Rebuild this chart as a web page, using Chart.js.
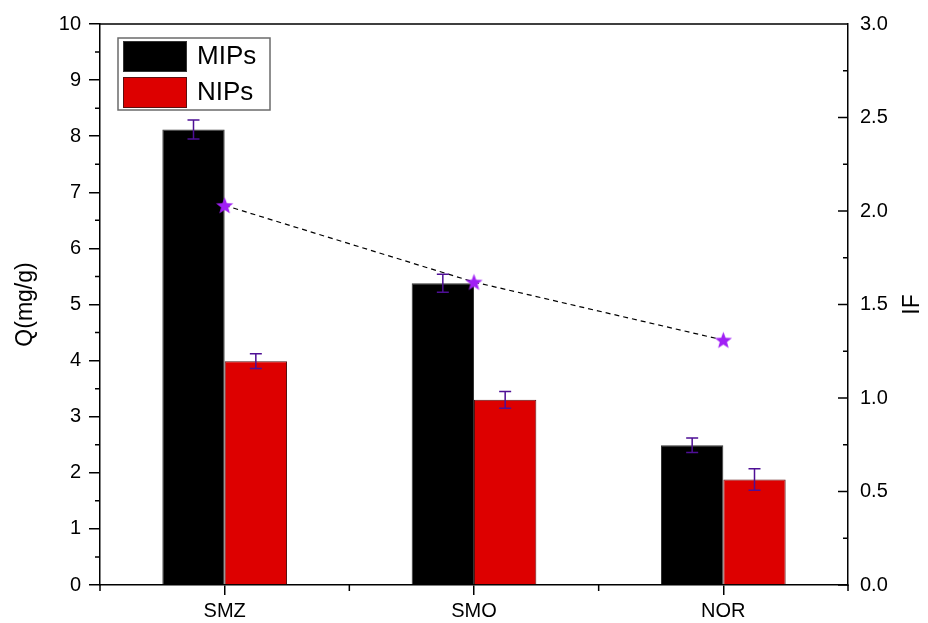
<!DOCTYPE html>
<html>
<head>
<meta charset="utf-8">
<script src="https://cdn.jsdelivr.net/npm/chart.js@4"></script>
<style>
  html, body { margin: 0; padding: 0; background: #fff; }
  #wrap { width: 928px; height: 623px; }
</style>
</head>
<body>
<div id="wrap"><canvas id="myChart" width="928" height="623"></canvas></div>
<script>
const categories = ['SMZ', 'SMO', 'NOR'];
const mips = [8.12, 5.38, 2.49];
const mipsErr = [0.17, 0.16, 0.13];
const nips = [3.99, 3.30, 1.88];
const nipsErr = [0.13, 0.15, 0.19];
const ifValues = [2.03, 1.62, 1.31];

const FONT = 'Liberation Sans, Arial, sans-serif';

// filled 5-point star for the IF points
function makeStar(size, color) {
    const c = document.createElement('canvas');
    c.width = size; c.height = size;
    const g = c.getContext('2d');
    const cx = size / 2, cy = size / 2 + 0.8, ro = size / 2 - 0.5, ri = ro * 0.42;
    g.beginPath();
    for (let i = 0; i < 10; i++) {
        const r = i % 2 ? ri : ro;
        const a = -Math.PI / 2 + i * Math.PI / 5;
        g.lineTo(cx + r * Math.cos(a), cy + r * Math.sin(a));
    }
    g.closePath();
    g.fillStyle = color;
    g.fill();
    return c;
}
const star = makeStar(19, '#a01ff5');

const errorBars = {
    id: 'errorBars',
    afterDatasetsDraw(chart) {
        const ctx = chart.ctx;
        const y = chart.scales.y;
        ctx.save();
        ctx.strokeStyle = '#4e0f95';
        ctx.lineWidth = 1.5;
        chart.data.datasets.forEach((ds, di) => {
            if (!ds.errors) return;
            const meta = chart.getDatasetMeta(di);
            meta.data.forEach((bar, i) => {
                const v = ds.data[i], e = ds.errors[i];
                const top = y.getPixelForValue(v + e);
                const bot = y.getPixelForValue(v - e);
                ctx.beginPath();
                ctx.moveTo(bar.x, top); ctx.lineTo(bar.x, bot);
                ctx.moveTo(bar.x - 6, top); ctx.lineTo(bar.x + 6, top);
                ctx.moveTo(bar.x - 6, bot); ctx.lineTo(bar.x + 6, bot);
                ctx.stroke();
            });
        });
        ctx.restore();
    }
};

const frame = {
    id: 'frame',
    afterDraw(chart) {
        const ctx = chart.ctx;
        const a = chart.chartArea;
        const y = chart.scales.y, y1 = chart.scales.y1, x = chart.scales.x;
        ctx.save();
        ctx.strokeStyle = '#000';
        ctx.lineWidth = 1.5;
        ctx.beginPath();
        ctx.moveTo(a.left, a.top); ctx.lineTo(a.right, a.top);
        // left minor ticks
        for (let v = 0.5; v < 10; v += 1) {
            const p = y.getPixelForValue(v);
            ctx.moveTo(a.left, p); ctx.lineTo(a.left - 5, p);
        }
        // right ticks point inward
        for (let v = 0; v <= 3.001; v += 0.25) {
            const p = y1.getPixelForValue(v);
            const len = Math.abs(v * 2 - Math.round(v * 2)) < 0.01 ? 10 : 5;
            ctx.moveTo(a.right, p); ctx.lineTo(a.right - len, p);
        }
        // bottom minor ticks at category boundaries
        for (let i = 0; i <= categories.length; i++) {
            const p = x.getPixelForValue(i - 0.5);
            ctx.moveTo(p, a.bottom); ctx.lineTo(p, a.bottom + 6);
        }
        ctx.stroke();

        // axis titles
        ctx.fillStyle = '#000';
        ctx.font = '23px ' + FONT;
        ctx.textAlign = 'center';
        ctx.textBaseline = 'middle';
        ctx.save();
        ctx.translate(26, (a.top + a.bottom) / 2);
        ctx.rotate(-Math.PI / 2);
        ctx.fillText('Q(mg/g)', 0, 0);
        ctx.restore();
        ctx.save();
        ctx.translate(913, (a.top + a.bottom) / 2);
        ctx.rotate(-Math.PI / 2);
        ctx.fillText('IF', 0, 0);
        ctx.restore();

        // legend
        const lx = a.left + 18, ly = a.top + 14;
        ctx.strokeStyle = '#6b6b6b';
        ctx.lineWidth = 1.5;
        ctx.strokeRect(lx, ly, 152, 72);
        const items = chart.data.datasets.filter(d => d.type === 'bar');
        ctx.font = '26px ' + FONT;
        ctx.textAlign = 'left';
        items.forEach((d, i) => {
            const sy = ly + 3 + i * 36;
            ctx.fillStyle = d.backgroundColor;
            ctx.fillRect(lx + 5, sy, 64, 31);
            ctx.lineWidth = 1;
            ctx.strokeStyle = d.borderColor;
            ctx.strokeRect(lx + 5.5, sy + 0.5, 63, 30);
            ctx.fillStyle = '#000';
            ctx.fillText(d.label, lx + 79, sy + 16);
        });
        ctx.restore();
    }
};

new Chart(document.getElementById('myChart').getContext('2d'), {
    data: {
        labels: categories,
        datasets: [
            {
                type: 'line',
                label: 'IF',
                data: ifValues,
                yAxisID: 'y1',
                borderColor: '#000',
                borderWidth: 1.2,
                borderDash: [5, 4],
                pointStyle: star,
                pointRadius: 9,
                fill: false,
                order: 0
            },
            {
                type: 'bar',
                label: 'MIPs',
                data: mips,
                errors: mipsErr,
                yAxisID: 'y',
                backgroundColor: '#000000',
                borderColor: '#333333',
                borderWidth: 1,
                categoryPercentage: 0.5,
                barPercentage: 1,
                order: 1
            },
            {
                type: 'bar',
                label: 'NIPs',
                data: nips,
                errors: nipsErr,
                yAxisID: 'y',
                backgroundColor: '#dd0000',
                borderColor: '#5a1010',
                borderWidth: 1,
                categoryPercentage: 0.5,
                barPercentage: 1,
                order: 1
            }
        ]
    },
    options: {
        responsive: false,
        animation: false,
        layout: { padding: { top: 24, bottom: 0, left: 0, right: 0 } },
        plugins: { legend: { display: false }, tooltip: { enabled: false } },
        scales: {
            x: {
                offset: true,
                grid: { offset: false, drawOnChartArea: false, tickLength: 10, color: '#000', lineWidth: 1.5 },
                border: { color: '#000', width: 1.5 },
                ticks: { color: '#000', font: { family: FONT, size: 20 }, padding: 4 },
                afterFit(s) { s.height = 38; s.paddingLeft = 0; s.paddingRight = 0; }
            },
            y: {
                position: 'left',
                min: 0, max: 10,
                ticks: { stepSize: 1, color: '#000', font: { family: FONT, size: 20 }, padding: 8 },
                grid: { drawOnChartArea: false, tickLength: 11, color: '#000', lineWidth: 1.5 },
                border: { color: '#000', width: 1.5 },
                afterFit(s) { s.width = 100; s.paddingTop = 0; s.paddingBottom = 0; }
            },
            y1: {
                position: 'right',
                min: 0, max: 3,
                ticks: { stepSize: 0.5, color: '#000', font: { family: FONT, size: 20 }, padding: 12,
                         callback: v => v.toFixed(1) },
                grid: { drawOnChartArea: false, drawTicks: false },
                border: { color: '#000', width: 1.5 },
                afterFit(s) { s.width = 80; s.paddingTop = 0; s.paddingBottom = 0; }
            }
        }
    },
    plugins: [errorBars, frame]
});
</script>
</body>
</html>
